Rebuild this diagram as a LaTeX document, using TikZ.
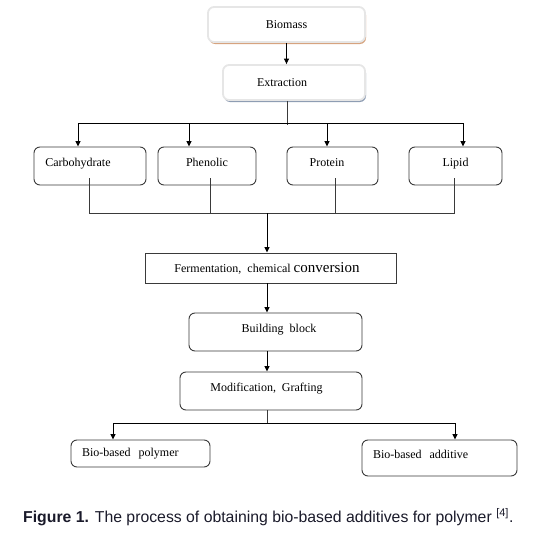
\documentclass[tikz,border=0pt]{standalone}
\usepackage{fontspec}
\setmainfont{Liberation Serif}
\setsansfont{Liberation Sans}
\usetikzlibrary{arrows.meta,shadows}
\definecolor{FlowLine}{HTML}{3A3A3A}
\definecolor{GlowEdge}{HTML}{E6E6E6}
\definecolor{ShadeTan}{HTML}{D6A37E}
\definecolor{ShadeSlate}{HTML}{8E9DB3}
\definecolor{CaptionInk}{HTML}{1A1A2A}
\tikzset{
  box/.style={draw=FlowLine, rounded corners=6pt, line width=0.9pt,
              align=center, inner sep=0pt, font=\fontsize{12}{14}\selectfont},
  hibox/.style={box, text height=0.5em, text depth=0.5em},
  glowbox/.style={box, draw=GlowEdge, line width=1.8pt, fill=white,
                  drop shadow={shadow xshift=1pt, shadow yshift=-2pt,
                               fill=#1, opacity=1}},
  plainbox/.style={box, rounded corners=0pt},
  leftbox/.style={box, align=left, inner xsep=11pt},
  flow/.style={-{Triangle[length=5.5pt,width=5pt]}, line width=0.9pt,
               draw=black},
  tie/.style={line width=0.9pt, draw=FlowLine}
}

\begin{document}
\begin{tikzpicture}[x=1pt,y=-1pt]
  \useasboundingbox (0,0) rectangle (542,538);

  \node[glowbox=ShadeTan, minimum width=157pt, minimum height=35pt]
    (biomass) at (286.5,24.5) {Biomass};
  \node[glowbox=ShadeSlate, minimum width=142pt, minimum height=35pt]
    (extraction) at (294,82.5) {\hspace*{-24pt}Extraction};

  \node[hibox, minimum width=112pt, minimum height=38pt]
    (carbo) at (90,166) {\hspace*{-24pt}Carbohydrate};
  \node[hibox, minimum width=98pt, minimum height=38pt]
    (phenolic) at (207,166) {Phenolic};
  \node[hibox, minimum width=91pt, minimum height=38pt]
    (protein) at (332.5,166) {\hspace*{-11pt}Protein};
  \node[hibox, minimum width=93pt, minimum height=38pt]
    (lipid) at (455.5,166) {Lipid};

  \node[plainbox, minimum width=251pt, minimum height=30pt]
    (ferment) at (270.5,268)
    {\hspace*{-7pt}Fermentation,\ \ chemical \fontsize{15}{16}\selectfont conversion};
  \node[hibox, minimum width=173pt, minimum height=38pt]
    (block) at (275.5,332) {\hspace*{7pt}Building\ \ block};
  \node[hibox, minimum width=182pt, minimum height=38pt]
    (modify) at (271,391) {\hspace*{-9pt}Modification,\ \ Grafting};

  \node[leftbox, text width=117pt, minimum height=27pt]
    (polymer) at (140.5,453.5) {Bio-based\ \ polymer};
  \node[leftbox, text width=133pt, minimum height=36pt,
        text height=0.5em, text depth=0.5em]
    (additive) at (439.5,458) {Bio-based\ \ additive};

  \node[anchor=base west, inner sep=0pt, text=CaptionInk,
        font=\sffamily\fontsize{15.8}{18}\selectfont] (caption) at (23,522)
    {\textbf{Figure 1.} The process of obtaining bio-based additives for polymer \textsuperscript{[4]}.};

  % extraction splits into the four fractions
  \draw[flow] (biomass.south) -- (biomass.south |- extraction.north);
  \coordinate (split) at (287,123);
  \draw[tie] (extraction.south -| split) -- ([yshift=-2pt]split);
  \draw[flow] (split) -| ([xshift=-12pt]carbo.north);
  \draw[flow] (split) -| ([xshift=-18pt]phenolic.north);
  \draw[flow] (split) -| ([xshift=-5.5pt]protein.north);
  \draw[flow] (split) -| ([xshift=7.5pt]lipid.north);

  % fractions gather into conversion
  \coordinate (gather) at (267,213);
  \draw[tie] ([xshift=-1pt,yshift=7pt]carbo.south) |- (gather);
  \draw[tie] ([xshift=3pt,yshift=7pt]phenolic.south) |- (gather);
  \draw[tie] ([xshift=2.5pt,yshift=7pt]protein.south) |- (gather);
  \draw[tie] ([xshift=-1.5pt,yshift=7pt]lipid.south) |- (gather);
  \draw[flow] (gather) -- (gather |- ferment.north);

  \draw[flow] (ferment.south -| gather) -- (block.north -| gather);
  \draw[flow] (block.south -| gather) -- (modify.north -| gather);

  % two products
  \coordinate (fork) at (267,423);
  \draw[tie] (modify.south -| fork) -- (fork);
  \draw[flow] (fork) -| ([xshift=-27.5pt]polymer.north);
  \draw[flow] (fork) -| ([xshift=15.5pt]additive.north);
\end{tikzpicture}
\end{document}
